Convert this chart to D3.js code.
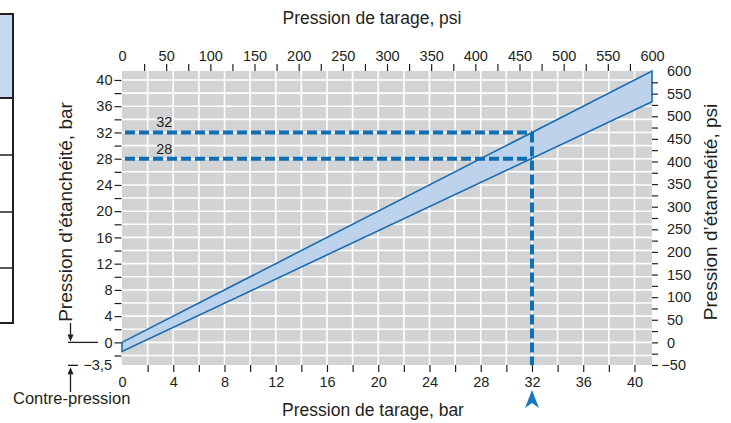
<!DOCTYPE html>
<html>
<head>
<meta charset="utf-8">
<script src="https://cdn.jsdelivr.net/npm/d3@7"></script>
<style>
  body { margin: 0; background: #fff; }
  svg { font-family: "Liberation Sans", Arial, sans-serif; }
</style>
</head>
<body>
<div id="chart"></div>
<script>
const PSI_PER_BAR = 14.5038;

// band: set pressure (bar) at both ends, seal pressure upper / lower edge
const tarageBar = [0, 600 / PSI_PER_BAR];
const upperSeal = [0, 600 / PSI_PER_BAR];
const lowerSeal = [-1.4, 36.7];

// example reading
const markTarage = 32;
const markSeal = [32, 28];

// ticks
const barTicksX = d3.range(0, 41, 2);
const barTicksY = d3.range(-2, 41, 2);
const psiTicks = d3.range(-50, 601, 25);

const width = 731, height = 423;
const plot = {left: 122, right: 652, top: 71, bottom: 365};
const ink = "#231f20", blue = "#1a6db3", dashBlue = "#0f6fb5";
const tickSize = 14.5;

const svg = d3.select("#chart").append("svg")
  .attr("width", width)
  .attr("height", height);

const x = d3.scaleLinear([0, 600 / PSI_PER_BAR], [plot.left, plot.right]);
const xPsi = d3.scaleLinear([0, 600], [plot.left, plot.right]);
const y = d3.scaleLinear([-50 / PSI_PER_BAR, 600 / PSI_PER_BAR], [plot.bottom, plot.top]);
const yPsi = d3.scaleLinear([-50, 600], [plot.bottom, plot.top]);

// cropped table on the far left
const box = svg.append("g");
box.append("rect")
  .attr("x", -6).attr("y", 14).attr("width", 19).attr("height", 309)
  .attr("fill", "#fff").attr("stroke", ink).attr("stroke-width", 2);
box.append("rect")
  .attr("x", -6).attr("y", 14).attr("width", 19).attr("height", 84)
  .attr("fill", "#c5d9ee").attr("stroke", ink).attr("stroke-width", 2);
[155, 212, 268].forEach(v => box.append("line")
  .attr("x1", -6).attr("x2", 13).attr("y1", v).attr("y2", v)
  .attr("stroke", ink).attr("stroke-width", 1.5));

// plot background + grid
svg.append("rect")
  .attr("x", plot.left).attr("y", plot.top)
  .attr("width", plot.right - plot.left).attr("height", plot.bottom - plot.top)
  .attr("fill", "#d1d3d4");

const grid = svg.append("g").attr("stroke", "#fff").attr("stroke-width", 1.6);
grid.selectAll(".gx").data(barTicksX.filter(d => d > 0))
  .join("line")
    .attr("x1", d => x(d)).attr("x2", d => x(d))
    .attr("y1", plot.top).attr("y2", plot.bottom);
grid.selectAll(".gy").data(barTicksY)
  .join("line")
    .attr("y1", d => y(d)).attr("y2", d => y(d))
    .attr("x1", plot.left).attr("x2", plot.right);

// band
const bandPts = [
  [x(tarageBar[0]), y(upperSeal[0])],
  [x(tarageBar[1]), y(upperSeal[1])],
  [x(tarageBar[1]), y(lowerSeal[1])],
  [x(tarageBar[0]), y(lowerSeal[0])]
];
svg.append("path")
  .attr("d", d3.line()(bandPts) + "Z")
  .attr("fill", "#bcd3eb")
  .attr("stroke", blue)
  .attr("stroke-width", 1.6)
  .attr("stroke-linejoin", "miter");

// dashed reading lines
const dash = svg.append("g")
  .attr("stroke", dashBlue).attr("stroke-width", 4)
  .attr("stroke-dasharray", "10,4").attr("fill", "none");
markSeal.forEach(v => dash.append("line")
  .attr("x1", x(0) + 3).attr("x2", x(markTarage))
  .attr("y1", y(v)).attr("y2", y(v)));
dash.append("line")
  .attr("x1", x(markTarage)).attr("x2", x(markTarage))
  .attr("y1", y(markSeal[0])).attr("y2", plot.bottom);

svg.selectAll(".marklab").data(markSeal)
  .join("text")
    .attr("x", x(3.3))
    .attr("y", d => y(d) - 5)
    .attr("text-anchor", "middle")
    .attr("font-size", tickSize)
    .attr("fill", ink)
    .text(d => d);

// blue pointer under 32
const ax = x(markTarage);
svg.append("path")
  .attr("d", `M${ax},390 L${ax + 7},408 L${ax},403 L${ax - 7},408 Z`)
  .attr("fill", "#1a76c0");

// axes
function styleAxis(g) {
  g.select(".domain").remove();
  g.selectAll(".tick line").attr("stroke", ink).attr("stroke-width", 1.2);
  g.selectAll(".tick text").attr("fill", ink).attr("font-size", tickSize);
}

svg.append("g")
  .attr("transform", `translate(${plot.left - 0.5},0)`)
  .call(d3.axisLeft(y).tickValues(barTicksY).tickSize(7).tickPadding(2)
    .tickFormat(d => d % 4 === 0 ? d : ""))
  .call(styleAxis);

svg.append("g")
  .attr("transform", `translate(0,${plot.bottom})`)
  .call(d3.axisBottom(x).tickValues(barTicksX).tickSize(7).tickPadding(5)
    .tickFormat(d => d % 4 === 0 ? d : ""))
  .call(styleAxis)
  .call(g => g.selectAll(".tick line").filter(d => d === 0).remove());

svg.append("g")
  .attr("transform", `translate(0,${plot.top})`)
  .call(d3.axisTop(xPsi).tickValues(psiTicks.filter(d => d >= 0)).tickSize(7).tickPadding(3)
    .tickFormat(d => d % 50 === 0 ? d : ""))
  .call(styleAxis)
  .call(g => g.selectAll(".tick line").filter(d => d === 0 || d === 600).remove());

svg.append("g")
  .attr("transform", `translate(${plot.right},0)`)
  .call(d3.axisRight(yPsi).tickValues(psiTicks).tickSize(6).tickPadding(9)
    .tickFormat(d => d % 50 === 0 && d >= 0 ? d : ""))
  .call(styleAxis)
  .call(g => g.selectAll(".tick line").filter(d => d === 600).remove());

svg.append("text")
  .attr("x", 686).attr("y", yPsi(-50)).attr("dy", "0.32em")
  .attr("text-anchor", "end").attr("font-size", tickSize).attr("fill", ink)
  .text("\u221250");

svg.append("text")
  .attr("x", 112).attr("y", y(-3.5)).attr("dy", "0.32em")
  .attr("text-anchor", "end").attr("font-size", tickSize).attr("fill", ink)
  .text("\u22123,5");

// titles
const titleSize = 17.5;
svg.append("text")
  .attr("x", 372).attr("y", 24)
  .attr("text-anchor", "middle").attr("font-size", titleSize).attr("fill", ink)
  .text("Pression de tarage, psi");
svg.append("text")
  .attr("x", 373).attr("y", 416)
  .attr("text-anchor", "middle").attr("font-size", titleSize).attr("fill", ink)
  .text("Pression de tarage, bar");
svg.append("text")
  .attr("transform", "translate(72,212) rotate(-90)")
  .attr("text-anchor", "middle").attr("font-size", 19).attr("fill", ink)
  .text("Pression d\u2019étanchéité, bar");
svg.append("text")
  .attr("transform", "translate(717,212) rotate(-90)")
  .attr("text-anchor", "middle").attr("font-size", 19).attr("fill", ink)
  .text("Pression d\u2019étanchéité, psi");

// back-pressure note
const note = svg.append("g").attr("stroke", ink).attr("stroke-width", 1.3);
note.append("line").attr("x1", 68).attr("x2", 98).attr("y1", y(0)).attr("y2", y(0));
note.append("line").attr("x1", 68).attr("x2", 78).attr("y1", y(-3.5)).attr("y2", y(-3.5));
note.append("line").attr("x1", 70.5).attr("x2", 70.5).attr("y1", 323).attr("y2", y(0) - 6);
note.append("line").attr("x1", 70.5).attr("x2", 70.5).attr("y1", 392).attr("y2", y(-3.5) + 8);
svg.append("path")
  .attr("d", `M70.5,${y(0) - 1} l-3,-7 l6,0 Z`).attr("fill", ink);
svg.append("path")
  .attr("d", `M70.5,${y(-3.5) + 2} l-3,7 l6,0 Z`).attr("fill", ink);
svg.append("text")
  .attr("x", 13).attr("y", 404)
  .attr("font-size", 16.5).attr("fill", ink)
  .text("Contre-pression");
</script>
</body>
</html>
